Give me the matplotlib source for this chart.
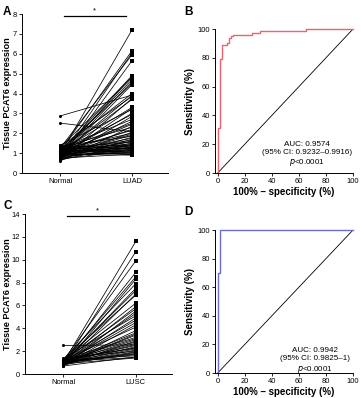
import matplotlib
matplotlib.use("Agg")
import matplotlib.pyplot as plt

plt.rcParams['font.family'] = ['Liberation Sans', 'DejaVu Sans']

# panel A: paired LUAD tissue values
luad_normal = [0.95, 1.1, 0.8, 1.25, 0.7, 1.05, 0.9, 1.3, 1.0, 0.85,
               1.15, 0.75, 1.2, 2.87, 0.95, 1.35, 0.65, 1.0, 1.1, 0.8,
               1.4, 0.9, 1.05, 0.7, 1.25, 0.85, 1.15, 1.0, 0.6, 1.3,
               0.95, 1.1, 2.51, 0.75, 1.2, 1.0, 0.9, 1.35, 0.8, 1.05,
               0.7, 1.15, 0.95, 1.25, 0.85, 1.1, 0.65, 1.0, 1.3, 0.9,
               1.2, 0.75, 1.05, 0.95, 1.4, 0.8, 1.1, 0.7, 1.0, 1.25,
               0.85, 1.15, 0.9, 1.35, 1.0, 0.75, 1.2, 0.95, 1.05, 0.85]
luad_tumor = [7.2, 6.15, 6.05, 5.95, 5.65, 4.9, 4.85, 4.8, 4.7, 4.6,
              4.5, 4.45, 4.0, 3.92, 3.9, 3.85, 3.75, 3.7, 3.3, 3.25,
              3.2, 3.0, 2.95, 2.85, 2.7, 2.6, 2.5, 2.45, 2.35, 2.3,
              2.2, 2.15, 2.08, 2.05, 2.0, 1.95, 1.9, 1.85, 1.8, 1.75,
              1.7, 1.65, 1.6, 1.55, 1.5, 1.48, 1.45, 1.42, 1.4, 1.38,
              1.35, 1.3, 1.28, 1.25, 1.22, 1.2, 1.18, 1.15, 1.12, 1.1,
              1.08, 1.05, 1.02, 1.0, 0.97, 0.95, 0.92, 0.9, 1.3, 1.6]

# panel C: paired LUSC tissue values
lusc_normal = [1.0, 0.85, 1.2, 0.9, 1.1, 0.75, 1.3, 0.95, 1.05, 0.8,
               1.25, 0.9, 1.15, 0.7, 1.0, 1.35, 0.85, 1.1, 0.95, 1.2,
               0.8, 1.05, 0.9, 1.3, 1.0, 0.75, 1.15, 2.5, 0.95, 1.1,
               0.85, 1.25, 1.0, 0.9, 1.4, 0.8, 1.05, 0.95, 1.2, 0.7,
               1.1, 0.9, 1.0, 1.15, 0.85, 1.3, 0.95, 1.05, 0.8, 1.2]
lusc_tumor = [11.6, 10.7, 9.9, 8.9, 8.5, 8.3, 7.9, 7.5, 7.3, 7.0,
              6.9, 5.9, 5.7, 5.5, 5.3, 5.1, 4.9, 4.7, 4.5, 4.1,
              3.8, 3.6, 3.4, 3.2, 3.0, 2.9, 2.8, 2.55, 2.6, 2.5,
              2.4, 2.3, 2.2, 2.1, 2.0, 1.9, 1.8, 1.7, 1.6, 1.5,
              1.45, 1.4, 2.7, 3.1, 3.5, 2.25, 1.95, 1.75, 4.3, 6.2]

# ROC curves (percent)
fpr_b = [0, 0, 0.5, 0.5, 1.5, 1.5, 3, 3, 3.5, 3.5, 6.5, 6.5, 8.5, 8.5,
         9.5, 9.5, 11, 11, 25, 25, 31, 31, 65, 65, 100]
tpr_b = [0, 24, 24, 31, 31, 79, 79, 83, 83, 89, 89, 90.5, 90.5, 93.5,
         93.5, 95, 95, 96, 96, 97, 97, 98.5, 98.5, 100, 100]
fpr_d = [0, 0, 1.5, 1.5, 100]
tpr_d = [0, 70, 70, 100, 100]

TICK_FS = 5.4
LABEL_FS = 7.0


def style_axes(ax):
    for s in ['top', 'right']:
        ax.spines[s].set_visible(False)
    for s in ['left', 'bottom']:
        ax.spines[s].set_linewidth(0.7)
    ax.tick_params(labelsize=TICK_FS, length=2.5, width=0.6, pad=1.2)


def paired_panel(ax, normal, tumor, label, ymax, bar_y, star_y, ylab_x):
    for n, t in zip(normal, tumor):
        ax.plot([0, 1], [n, t], color='black', lw=0.55)
    ax.plot([0] * len(normal), normal, 'o', color='black', ms=2.2, mew=0)
    ax.plot([1] * len(tumor), tumor, 's', color='black', ms=2.2, mew=0)
    ax.plot([0.05, 0.91], [bar_y, bar_y], color='black', lw=0.9, clip_on=False)
    ax.text(0.47, star_y, '*', ha='center', va='center', fontsize=5.5)
    ax.set_xlim(-0.53, 1.5)
    ax.set_ylim(0, ymax)
    ax.set_xticks([0, 1])
    ax.set_xticklabels(['Normal', label])
    ax.set_ylabel('Tissue PCAT6 expression', fontsize=6.6,
                  fontweight='bold')
    ax.yaxis.set_label_coords(ylab_x, 0.5)
    style_axes(ax)


def roc_panel(ax, fpr, tpr, color, txt, tx, ty):
    ax.plot([0, 100], [0, 100], color='black', lw=0.6)
    ax.plot(fpr, tpr, color=color, lw=1.0, clip_on=False)
    ax.set_xlim(-2, 100)
    ax.set_ylim(0, 100)
    ax.set_xticks([0, 20, 40, 60, 80, 100])
    ax.set_yticks([0, 20, 40, 60, 80, 100])
    ax.set_xlabel('100% \u2013 specificity (%)', fontsize=LABEL_FS,
                  fontweight='bold', labelpad=1.5)
    ax.set_ylabel('Sensitivity (%)', fontsize=LABEL_FS,
                  fontweight='bold', labelpad=2)
    ax.text(tx, ty, txt, ha='center', va='center', fontsize=5.8,
            linespacing=1.2)
    style_axes(ax)


fig = plt.figure(figsize=(3.61, 3.98), dpi=100)
ax_a = fig.add_axes([0.0609, 0.5653, 0.4044, 0.3995])
ax_b = fig.add_axes([0.5956, 0.5653, 0.3823, 0.3618])
ax_c = fig.add_axes([0.0693, 0.0603, 0.4072, 0.4020])
ax_d = fig.add_axes([0.5956, 0.0628, 0.3823, 0.3593])

paired_panel(ax_a, luad_normal, luad_tumor, 'LUAD', 8, 7.9, 8.15, -0.068)
ax_a.set_yticks(range(0, 9))
paired_panel(ax_c, lusc_normal, lusc_tumor, 'LUSC', 14, 13.8, 14.25, -0.09)
ax_c.set_yticks(range(0, 15, 2))

roc_panel(ax_b, fpr_b, tpr_b, '#e8646e',
          'AUC: 0.9574\n(95% CI: 0.9232\u20130.9916)\n$p$<0.0001', 66, 13)
roc_panel(ax_d, fpr_d, tpr_d, '#6b6bd0',
          'AUC: 0.9942\n(95% CI: 0.9825\u20131)\n$p$<0.0001', 72, 8.5)

for x, y, s in [(3, 12, 'A'), (184, 12, 'B'), (3, 206, 'C'), (184, 212, 'D')]:
    fig.text(x / 361, 1 - y / 398, s, fontsize=8.5, fontweight='bold',
             ha='left', va='center')

fig.savefig('out.png', dpi=100)
